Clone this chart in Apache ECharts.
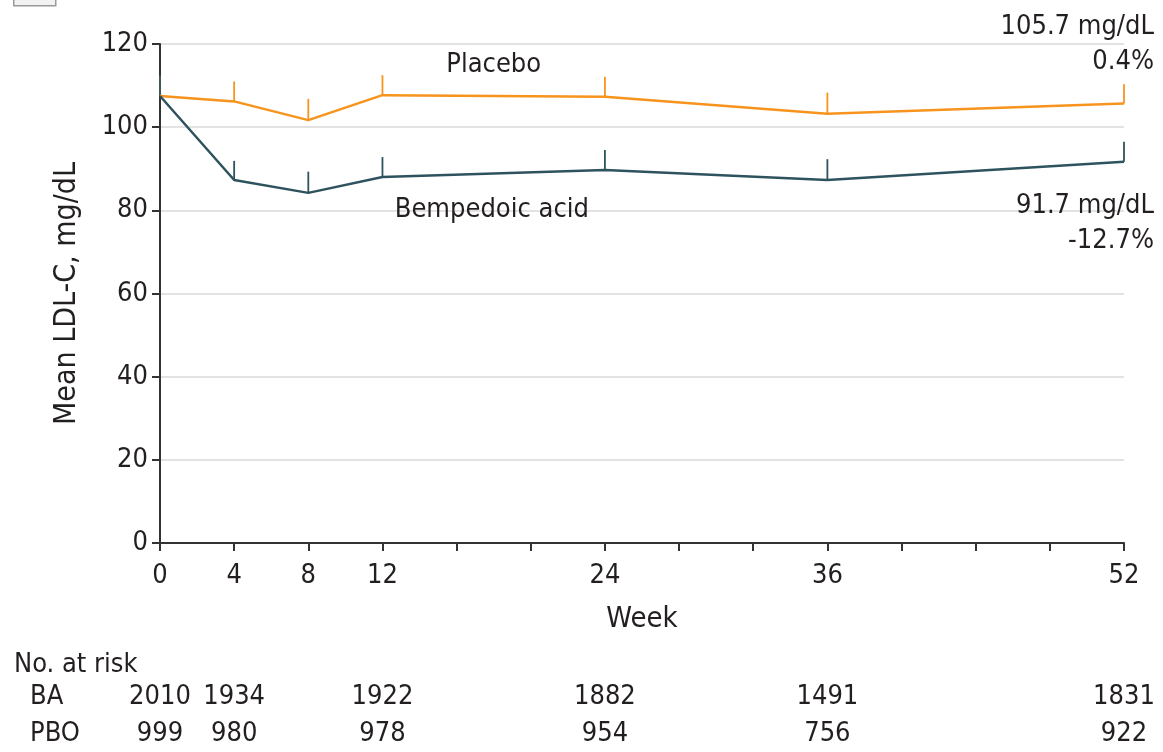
<!DOCTYPE html>
<html>
<head>
<meta charset="utf-8">
<script src="https://cdn.jsdelivr.net/npm/echarts@6/dist/echarts.min.js"></script>
<style>
  html, body { margin: 0; padding: 0; background: #fff; }
  #chart { width: 1163px; height: 752px; }
</style>
</head>
<body>
<div id="chart"></div>
<script>
// Mean LDL-C over 52 weeks, bempedoic acid vs placebo
const weeks = [0, 4, 8, 12, 24, 36, 52];
const placeboMean = [107.5, 106.2, 101.7, 107.7, 107.3, 103.2, 105.7];
const placeboErr = [4.8, 4.8, 5.1, 4.8, 4.8, 5.1, 4.6];
const baMean = [107.5, 87.3, 84.2, 88.0, 89.7, 87.3, 91.7];
const baErr = [5.0, 4.6, 5.1, 4.8, 4.8, 5.0, 4.8];
const endChange = { placebo: '0.4%', ba: '-12.7%' };
const xLabelWeeks = [0, 4, 8, 12, 24, 36, 52];
const riskRows = ['BA', 'PBO'];
const riskBA = [2010, 1934, 1922, 1882, 1491, 1831];
const riskPBO = [999, 980, 978, 954, 756, 922];
const riskWeeks = [0, 4, 12, 24, 36, 52];

const FONT = '"DejaVu Sans Condensed", "Liberation Sans Narrow", "Open Sans", sans-serif';
const INK = '#231f20';
const ORANGE = '#f7941d';
const TEAL = '#2e535e';
const FS = 27;

const chart = echarts.init(document.getElementById('chart'), null, { renderer: 'canvas' });

function pairs(xs, ys) { return xs.map((x, i) => [x, ys[i]]); }
function errData(xs, ys, es) { return xs.map((x, i) => [x, ys[i], ys[i] + es[i]]); }

function errSeries(name, data, color) {
  return {
    type: 'custom', name: name, xAxisIndex: 0, yAxisIndex: 0, z: 3,
    data: data,
    renderItem: function (params, api) {
      const p0 = api.coord([api.value(0), api.value(1)]);
      const p1 = api.coord([api.value(0), api.value(2)]);
      return {
        type: 'line',
        shape: { x1: p0[0], y1: p0[1], x2: p1[0], y2: p1[1] },
        style: { stroke: color, lineWidth: 1.8 }
      };
    }
  };
}

const lastIdx = weeks.length - 1;

function endLabel(pos, offset, change) {
  return {
    show: true, position: pos, align: 'right', offset: offset,
    fontFamily: FONT, fontSize: FS, color: INK, lineHeight: 35,
    formatter: p => p.value[1].toFixed(1) + ' mg/dL\n' + change
  };
}

const option = {
  animation: false,
  backgroundColor: '#fff',
  textStyle: { fontFamily: FONT, color: INK },
  grid: [
    { left: 160, right: 39, top: 44, bottom: 209 },
    { left: 160, right: 39, top: 679, height: 76 }
  ],
  xAxis: [
    {
      gridIndex: 0, type: 'value', min: 0, max: 52, interval: 4,
      name: 'Week', nameLocation: 'middle', nameGap: 62,
      nameTextStyle: { fontFamily: FONT, fontSize: 29, color: INK },
      axisLine: { show: true, lineStyle: { color: '#333', width: 2 } },
      axisTick: { show: true, length: 8, lineStyle: { color: '#333', width: 2 } },
      axisLabel: {
        fontFamily: FONT, fontSize: FS, color: INK, margin: 19,
        formatter: v => xLabelWeeks.includes(v) ? String(v) : ''
      },
      splitLine: { show: false }
    },
    {
      gridIndex: 1, type: 'value', min: 0, max: 52, show: false
    }
  ],
  yAxis: [
    {
      gridIndex: 0, type: 'value', min: 0, max: 120, interval: 20,
      name: 'Mean LDL-C, mg/dL', nameLocation: 'middle', nameGap: 78, nameRotate: 90,
      nameTextStyle: { fontFamily: FONT, fontSize: 30, color: INK },
      axisLine: { show: true, lineStyle: { color: '#333', width: 2 } },
      axisTick: { show: true, length: 8, lineStyle: { color: '#333', width: 2 } },
      axisLabel: { fontFamily: FONT, fontSize: FS, color: INK, margin: 12 },
      splitLine: { show: true, lineStyle: { color: '#d9d9d9', width: 1.5 } }
    },
    {
      gridIndex: 1, type: 'category', data: riskRows, inverse: true,
      axisLine: { show: false }, axisTick: { show: false },
      axisLabel: { fontFamily: FONT, fontSize: FS, color: INK, align: 'left', margin: 130 }
    }
  ],
  graphic: [
    {
      type: 'rect', left: 13, top: -25,
      shape: { width: 42, height: 30 },
      style: { fill: '#f2f2f2', stroke: '#9a9a9a', lineWidth: 1.5 }
    },
    {
      type: 'text', left: 14, top: 651,
      style: { text: 'No. at risk', font: FS + 'px ' + FONT, fill: INK }
    }
  ],
  series: [
    errSeries('Placebo SE', errData(weeks, placeboMean, placeboErr), ORANGE),
    errSeries('BA SE', errData(weeks, baMean, baErr), TEAL),
    {
      type: 'line', name: 'Placebo', xAxisIndex: 0, yAxisIndex: 0, z: 4,
      data: pairs(weeks, placeboMean).map((d, i) => i === lastIdx ?
        { value: d, label: endLabel('top', [30, -19], endChange.placebo) } : d),
      symbol: 'circle', symbolSize: 0, showSymbol: true,
      itemStyle: { color: ORANGE },
      lineStyle: { color: ORANGE, width: 2.5 },
      markPoint: {
        symbol: 'circle', symbolSize: 0,
        data: [{ coord: [18, 115], label: { show: true, formatter: 'Placebo', fontFamily: FONT, fontSize: FS, color: INK } }]
      }
    },
    {
      type: 'line', name: 'Bempedoic acid', xAxisIndex: 0, yAxisIndex: 0, z: 4,
      data: pairs(weeks, baMean).map((d, i) => i === lastIdx ?
        { value: d, label: endLabel('bottom', [30, 22], endChange.ba) } : d),
      symbol: 'circle', symbolSize: 0, showSymbol: true,
      itemStyle: { color: TEAL },
      lineStyle: { color: TEAL, width: 2.5 },
      markPoint: {
        symbol: 'circle', symbolSize: 0,
        data: [{ coord: [17.9, 80.1], label: { show: true, formatter: 'Bempedoic acid', fontFamily: FONT, fontSize: FS, color: INK } }]
      }
    },
    {
      type: 'scatter', name: 'risk', xAxisIndex: 1, yAxisIndex: 1,
      symbolSize: 0,
      itemStyle: { opacity: 1 },
      data: riskWeeks.map((w, i) => [w, 'BA', riskBA[i]])
        .concat(riskWeeks.map((w, i) => [w, 'PBO', riskPBO[i]])),
      label: {
        show: true, position: 'inside', fontFamily: FONT, fontSize: FS, color: INK,
        formatter: p => String(p.value[2])
      }
    }
  ]
};

chart.setOption(option);
</script>
</body>
</html>
